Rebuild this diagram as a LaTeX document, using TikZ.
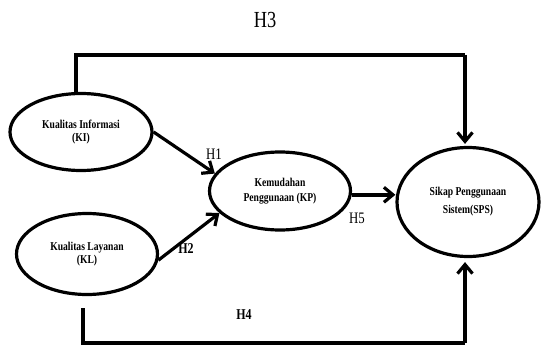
\documentclass[tikz,border=0pt]{standalone}
\usepackage{fontspec}
\setmainfont{Liberation Serif}[FakeStretch=0.8]
\usetikzlibrary{shapes.geometric,arrows.meta}
\begin{document}
\begin{tikzpicture}[x=1pt,y=-1pt,
  oval/.style={draw,line width=3.2pt,ellipse,inner sep=0pt,align=center,
    font=\bfseries\fontsize{12}{13}\selectfont},
  link/.style={line width=3.2pt},
  arr/.style={line width=3.2pt,-{Straight Barb[length=9pt,width=15pt,line width=3.2pt]}},
  hlab/.style={inner sep=0pt,font=\fontsize{16}{16}\selectfont},
  hlabb/.style={inner sep=0pt,font=\bfseries\fontsize{15}{15}\selectfont}]
\useasboundingbox (0,0) rectangle (543,345);
\node[oval,minimum width=142pt,minimum height=77pt] (KI) at (81,132) {Kualitas Informasi\\(KI)};
\node[oval,minimum width=141pt,minimum height=81pt] (KL) at (87,254) {Kualitas Layanan\\(KL)};
\node[oval,minimum width=141pt,minimum height=78pt,font=\bfseries\fontsize{12}{15}\selectfont] (KP) at (280,191) {Kemudahan\\Penggunaan (KP)};
\node[oval,minimum width=142pt,minimum height=109pt,font=\bfseries\fontsize{12}{18}\selectfont] (SPS) at (468,202) {Sikap Penggunaan\\Sistem(SPS)};
\coordinate (t1) at (76,55);
\coordinate (t2) at (465,55);
\coordinate (b0) at (83,308);
\coordinate (b1) at (83,343);
\coordinate (b2) at (465,343);
\draw[link] (KI.north -| t1) -- (t1) -- (t2);
\draw[arr] (t2) -- ([yshift=2pt]SPS.north -| t2);
\draw[link] (b0) -- (b1) -- (b2);
\draw[arr] (b2) -- ([yshift=-4pt]SPS.south -| b2);
\draw[arr] (KI.east) -- (KP.165);
\draw[arr] (KL.-5) -- (KP.200);
\draw[arr,line width=4pt] (KP.-3) -- (SPS.west |- KP.-3);
\node[hlab,font=\fontsize{23}{23}\selectfont] (h3) at (265,20) {H3};
\node[hlab] (h1) at (214,154) {H1};
\node[hlabb] (h2) at (186,249) {H2};
\node[hlab] (h5) at (357,218) {H5};
\node[hlabb] (h4) at (244,315) {H4};
\end{tikzpicture}
\end{document}
